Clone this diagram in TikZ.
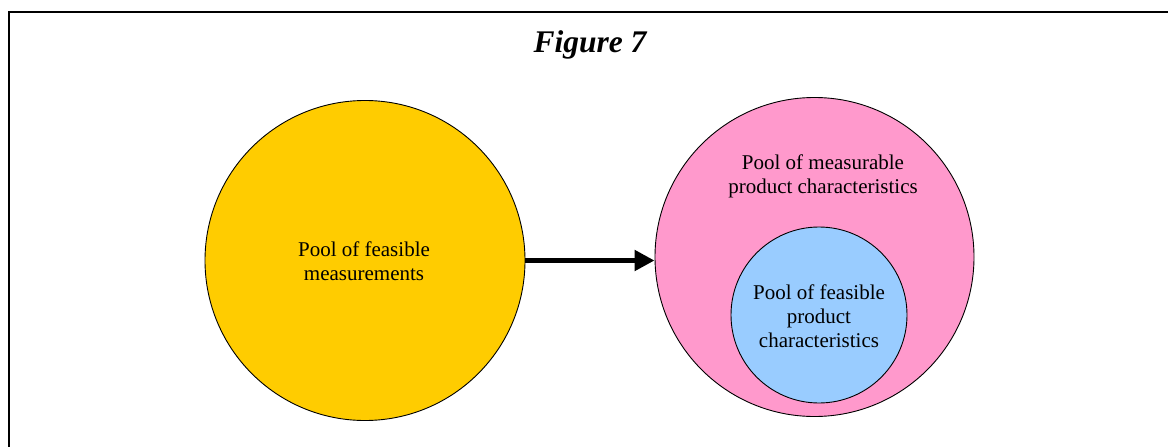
\documentclass[tikz,border=0pt]{standalone}
\usepackage{fontspec}
\setmainfont{Liberation Serif}
\usetikzlibrary{arrows.meta}
\definecolor{poolyellow}{HTML}{FFCC00}
\definecolor{poolpink}{HTML}{FF99CC}
\definecolor{poolblue}{HTML}{99CCFF}
\begin{document}
\begin{tikzpicture}[x=1pt,y=-1pt,
  pool/.style={circle,draw=black,line width=0.9pt,inner sep=0pt},
  pooltext/.style={align=center,font=\fontsize{21}{24}\selectfont,inner sep=0pt}]
  \useasboundingbox (0,0) rectangle (1168,447);
  \begin{scope}
    \clip (0,0) rectangle (1168,447);
    \draw[line width=2pt] (9,12) rectangle (1200,480);
  \end{scope}
  \node[font=\fontsize{31.5}{36}\selectfont\bfseries\itshape] (title) at (590,45) {Figure 7};
  \node[pool,fill=poolyellow,minimum size=320pt] (feas) at (365,260.5) {};
  \node[pool,fill=poolpink,minimum size=319pt] (meas) at (814.5,257) {};
  \node[pool,fill=poolblue,minimum size=176pt] (prod) at (819,315) {};
  \node[pooltext] (feastext) at (364,261) {Pool of feasible\\measurements};
  \node[pooltext] (meastext) at (823,176) {Pool of measurable\\product characteristics};
  \node[pooltext] (prodtext) at (819,316) {Pool of feasible\\product\\characteristics};
  \draw[line width=5pt,-{Triangle[length=20pt,width=20pt]}] (feas.east) -- (feas.east -| meas.west);
\end{tikzpicture}
\end{document}
